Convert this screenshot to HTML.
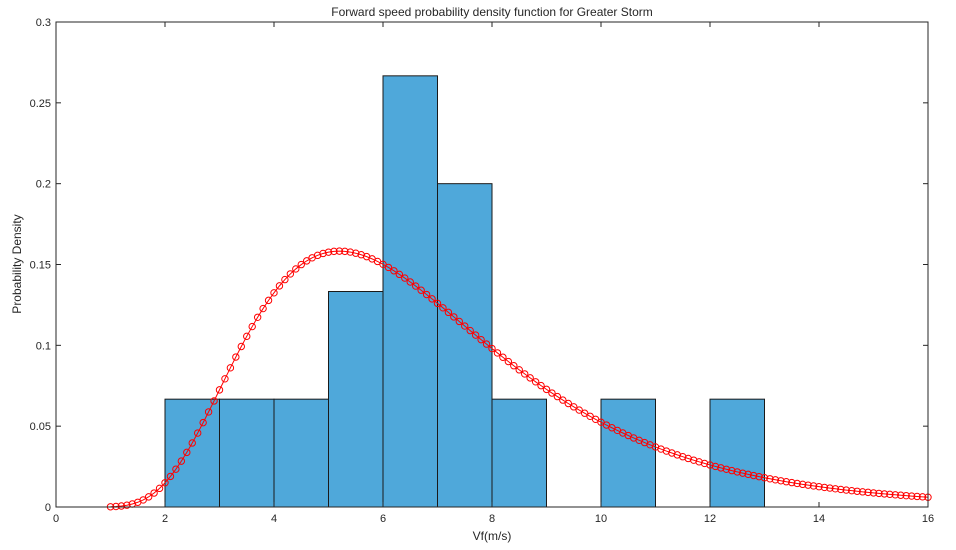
<!DOCTYPE html>
<html><head><meta charset="utf-8"><style>
html,body{margin:0;padding:0;background:#fff;}
svg text{font-family:"Liberation Sans",Arial,sans-serif;fill:#262626;}
</style></head><body>
<svg id="chart" width="956" height="545" xmlns="http://www.w3.org/2000/svg">
<rect x="0" y="0" width="956" height="545" fill="#fff"/>
<g id="bars"></g>
<g id="curve"></g>
<rect x="56" y="22" width="872" height="485" fill="none" stroke="#262626" stroke-width="1"/>
<g id="ticks"></g>
<text x="492" y="16" font-size="12" text-anchor="middle">Forward speed probability density function for Greater Storm</text>
<text x="492" y="540" font-size="12" text-anchor="middle">Vf(m/s)</text>
<text x="0" y="0" font-size="12" text-anchor="middle" transform="translate(21,264) rotate(-90)">Probability Density</text>
</svg>
<script>
const binEdgesLeft = [2,3,4,5,6,7,8,9,10,11,12];
const binHeights = [0.0667,0.0667,0.0667,0.1333,0.2667,0.2,0.0667,0,0.0667,0,0.0667];
const binWidth = [1];
const xTicks = [0,2,4,6,8,10,12,14,16];
const yTicks = [0,0.05,0.1,0.15,0.2,0.25,0.3];
const yTickLabels = ["0","0.05","0.1","0.15","0.2","0.25","0.3"];
const fitMu = [1.8423];
const fitSigma = [0.44];
const curveRange = [1,16];
const curveStep = [0.1];

const L=56,R=928,T=22,B=507;
const X=v=>L+(v-0)/(16-0)*(R-L);
const Y=v=>B-(v-0)/(0.3-0)*(B-T);
const NS="http://www.w3.org/2000/svg";
function mk(tag,attrs,parent){const e=document.createElementNS(NS,tag);for(const k in attrs)e.setAttribute(k,attrs[k]);parent.appendChild(e);return e;}

const gb=document.getElementById('bars');
binEdgesLeft.forEach((x0,i)=>{
  const h=binHeights[i]; if(h<=0) return;
  const r=mk('rect',{x:X(x0),y:Y(h),width:X(x0+binWidth[0])-X(x0),height:Y(0)-Y(h),fill:'#4fa8da',stroke:'#1a1a1a','stroke-width':1},gb);
  
  
});

const gc=document.getElementById('curve');
const mu=fitMu[0],s=fitSigma[0];
const pts=[];
const n=Math.round((curveRange[1]-curveRange[0])/curveStep[0]);
for(let i=0;i<=n;i++){
  const x=curveRange[0]+i*curveStep[0];
  const z=(Math.log(x)-mu)/s;
  const p=Math.exp(-0.5*z*z)/(x*s*Math.sqrt(2*Math.PI));
  pts.push([X(x),Y(p)]);
}
const pl=mk('polyline',{points:pts.map(p=>p.join(',')).join(' '),fill:'none',stroke:'#ff0000','stroke-width':1},gc);


pts.forEach(p=>{
  const c=mk('circle',{cx:p[0],cy:p[1],r:3.2,fill:'none',stroke:'#ff0000','stroke-width':1},gc);
  
  
});

const gt=document.getElementById('ticks');
xTicks.forEach(v=>{
  const x=X(v);
  mk('line',{x1:x,y1:B,x2:x,y2:B-5,stroke:'#262626'},gt);
  mk('line',{x1:x,y1:T,x2:x,y2:T+5,stroke:'#262626'},gt);
  const t=mk('text',{x:x,y:B+15,'font-size':11,'text-anchor':'middle'},gt);
  t.textContent=v;
  
  
});
yTicks.forEach((v,i)=>{
  const y=Y(v);
  mk('line',{x1:L,y1:y,x2:L+5,y2:y,stroke:'#262626'},gt);
  mk('line',{x1:R,y1:y,x2:R-5,y2:y,stroke:'#262626'},gt);
  const t=mk('text',{x:L-5,y:y+4,'font-size':11,'text-anchor':'end'},gt);
  t.textContent=yTickLabels[i];
  
  
});
</script>
</body></html>
